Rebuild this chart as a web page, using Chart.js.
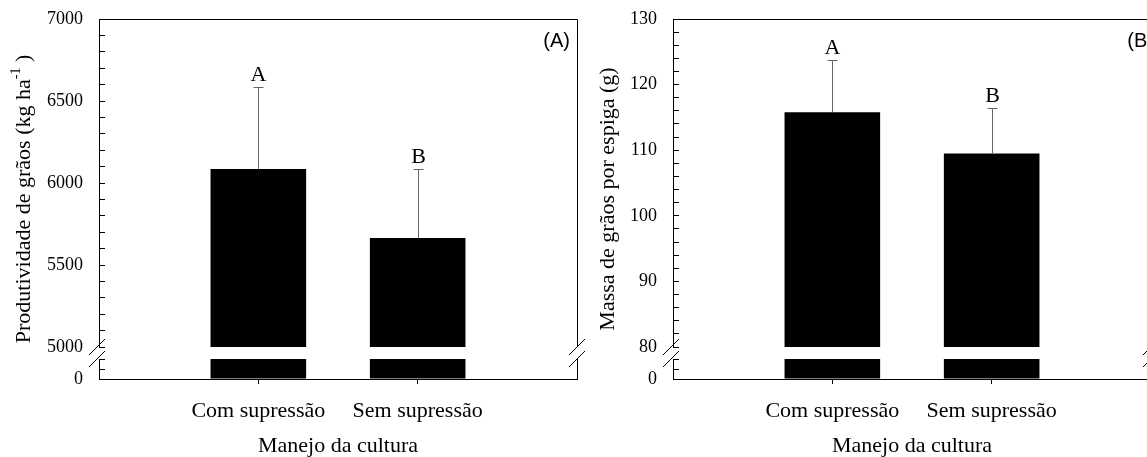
<!DOCTYPE html>
<html>
<head>
<meta charset="utf-8">
<title>Manejo da cultura</title>
<script src="https://cdn.jsdelivr.net/npm/chart.js@4.4.1/dist/chart.umd.min.js"></script>
<style>
  body { margin: 0; background: #fff; overflow: hidden; width: 1147px; height: 457px; position: relative; }
  canvas { position: absolute; top: 0; }
  #chartA { left: 0; }
  #chartB { left: 574px; }
</style>
</head>
<body>
<canvas id="chartA" width="600" height="457"></canvas>
<canvas id="chartB" width="600" height="457"></canvas>
<script>
const categories = ['Com supressão', 'Sem supressão']

// (A) produtividade de grãos, kg/ha
const yieldMeans = [6085, 5665]
const yieldErrors = [500, 420]
const yieldLetters = ['A', 'B']
const yieldTicks = [5000, 7000, 100, 500]   // min, max, step, label step
const yieldLowTicks = [0, 200, 100]

// (B) massa de grãos por espiga, g
const massMeans = [115.8, 109.5]
const massErrors = [8.0, 7.0]
const massLetters = ['A', 'B']
const massTicks = [80, 130, 2, 10]
const massLowTicks = [0, 4, 2]

const serif = "'Liberation Serif', 'Times New Roman', serif"
const sans = "'Liberation Sans', Arial, sans-serif"

// draws frame, axis breaks, error bars, letters, y title and panel tag
const decor = {
  id: 'decor',
  afterDraw(chart, args, p) {
    const ctx = chart.ctx
    const area = chart.chartArea
    const x = chart.scales.x
    const yTop = chart.scales.yTop
    const gapTop = yTop.bottom
    const gapBot = chart.scales.yBot.top
    ctx.save()
    ctx.strokeStyle = '#000'
    ctx.lineWidth = 1
    ctx.beginPath()
    ctx.moveTo(area.left, area.top + 0.5)
    ctx.lineTo(area.right + 0.5, area.top + 0.5)
    ctx.lineTo(area.right + 0.5, gapTop)
    ctx.moveTo(area.right + 0.5, gapBot)
    ctx.lineTo(area.right + 0.5, area.bottom)
    // break marks
    ;[area.left - 2, area.right].forEach(cx => {
      [gapTop, gapBot].forEach(cy => {
        ctx.moveTo(cx - 8, cy + 8)
        ctx.lineTo(cx + 8, cy - 8)
      })
    })
    ctx.stroke()

    // error bars (upper only) and letters
    ctx.strokeStyle = '#666'
    p.means.forEach((m, i) => {
      const px = Math.round(x.getPixelForValue(i + 1)) + 0.5
      const y0 = yTop.getPixelForValue(m)
      const y1 = Math.round(yTop.getPixelForValue(m + p.errors[i])) + 0.5
      ctx.beginPath()
      ctx.moveTo(px, y0)
      ctx.lineTo(px, y1)
      ctx.moveTo(px - 5, y1)
      ctx.lineTo(px + 5, y1)
      ctx.stroke()
      ctx.fillStyle = '#000'
      ctx.font = '22px ' + serif
      ctx.textAlign = 'center'
      ctx.textBaseline = 'alphabetic'
      ctx.fillText(p.letters[i], px, y1 - 7)
    })

    // panel tag
    ctx.font = '20px ' + sans
    ctx.textAlign = 'right'
    ctx.textBaseline = 'middle'
    ctx.fillText(p.tag, area.right + p.tagDx, area.top + 22)

    // y title with superscript parts
    ctx.translate(area.left - p.titleDx, (area.top + area.bottom) / 2)
    ctx.rotate(-Math.PI / 2)
    ctx.textAlign = 'left'
    ctx.textBaseline = 'middle'
    const fontOf = sup => (sup ? '14px ' : '22px ') + serif
    let total = 0
    p.title.forEach(([t, sup]) => { ctx.font = fontOf(sup); total += ctx.measureText(t).width })
    let tx = -total / 2
    p.title.forEach(([t, sup]) => {
      ctx.font = fontOf(sup)
      ctx.fillText(t, tx, sup ? -8 : 0)
      tx += ctx.measureText(t).width
    })
    ctx.restore()
  }
}

function noPad(a) {
  a.paddingTop = 0
  a.paddingBottom = 0
  a.paddingLeft = 0
  a.paddingRight = 0
}

function yAxis(range, weight, stackWeight, label) {
  return {
    type: 'linear', position: 'left', stack: 'y', weight, stackWeight,
    min: range[0], max: range[1],
    afterFit: a => { a.width = 99; noPad(a) },
    ticks: {
      stepSize: range[2], autoSkip: false, padding: 22, color: '#000',
      font: { family: serif, size: 18 },
      callback: label
    },
    grid: { drawOnChartArea: false, tickLength: -6, color: '#000' },
    border: { color: '#000', width: 1 }
  }
}

function makePanel(id, p) {
  const points = vals => vals.map((v, i) => ({ x: i + 1, y: v }))
  const bar = { backgroundColor: '#000', grouped: false, barPercentage: 0.6, categoryPercentage: 1 }
  return new Chart(document.getElementById(id), {
    type: 'bar',
    data: {
      datasets: [
        Object.assign({ data: points(p.means), yAxisID: 'yTop' }, bar),
        Object.assign({ data: points(p.means.map(v => Math.min(v, p.low[1]))), yAxisID: 'yBot' }, bar)
      ]
    },
    options: {
      responsive: false,
      animation: false,
      layout: { padding: { left: 0, top: 19, right: 23, bottom: 0 } },
      plugins: { legend: { display: false }, tooltip: { enabled: false }, decor: p },
      scales: {
        x: {
          type: 'linear', min: 0, max: 3, offset: false,
          afterFit: a => { a.height = 78; noPad(a) },
          ticks: {
            stepSize: 1, autoSkip: false, maxRotation: 0, padding: 14, color: '#000',
            font: { family: serif, size: 22 },
            callback: v => categories[v - 1] || ''
          },
          grid: {
            drawOnChartArea: false, offset: false, tickLength: 5,
            color: c => (c.tick && categories[c.tick.value - 1]) ? '#000' : 'rgba(0,0,0,0)'
          },
          border: { color: '#000', width: 1 },
          title: {
            display: true, text: 'Manejo da cultura', color: '#000', padding: 0,
            font: { family: serif, size: 22, lineHeight: 1 }
          }
        },
        yTop: yAxis(p.top, 3, 328, v => (v % p.top[3] === 0 ? String(v) : '')),
        yGap: {
          type: 'linear', position: 'left', stack: 'y', weight: 2, stackWeight: 12,
          min: 0, max: 1, afterFit: a => { a.width = 99; noPad(a) },
          ticks: { display: false }, grid: { display: false }, border: { display: false }
        },
        yBot: yAxis(p.low, 1, 20, v => (v === 0 ? '0' : ''))
      }
    },
    plugins: [decor]
  })
}

makePanel('chartA', {
  means: yieldMeans, errors: yieldErrors, letters: yieldLetters,
  top: yieldTicks, low: yieldLowTicks, tag: '(A)', tagDx: -7, titleDx: 75,
  title: [['Produtividade de grãos (kg ha', false], ['-1', true], [' )', false]]
})
makePanel('chartB', {
  means: massMeans, errors: massErrors, letters: massLetters,
  top: massTicks, low: massLowTicks, tag: '(B)', tagDx: 3, titleDx: 65,
  title: [['Massa de grãos por espiga (g)', false]]
})
</script>
</body>
</html>
